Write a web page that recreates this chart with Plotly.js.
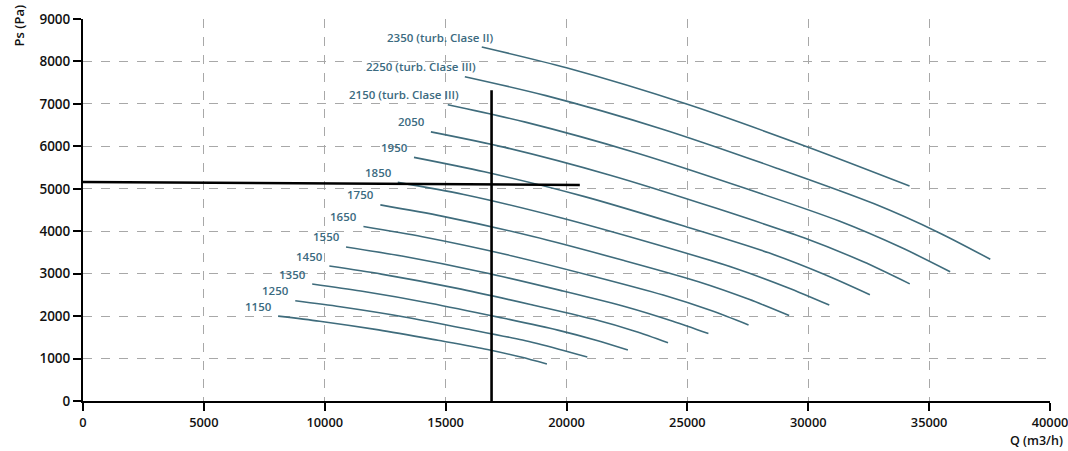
<!DOCTYPE html>
<html>
<head>
<meta charset="utf-8">
<script src="https://cdn.plot.ly/plotly-3.0.1.min.js"></script>
<style>
  html, body { margin: 0; padding: 0; background: #fff; }
  #chart { width: 1068px; height: 451px; }
</style>
</head>
<body>
<div id="chart"></div>
<script>
// Fan speed curves (rpm) – Q in m3/h, Ps in Pa
const labels = ['1150', '1250', '1350', '1450', '1550', '1650', '1750', '1850', '1950', '2050',
                '2150 (turb. Clase III)', '2250 (turb. Clase III)', '2350 (turb. Clase II)'];

const q1150 = [8070, 9790, 12230, 14680, 16730, 18110, 19190];
const p1150 = [2000, 1880, 1675, 1430, 1215, 1035, 872];
const q1250 = [8780, 10640, 13300, 15960, 18180, 19680, 20860];
const p1250 = [2360, 2220, 1980, 1690, 1435, 1220, 1035];
const q1350 = [9480, 11490, 14360, 17230, 19640, 21260, 22540];
const p1350 = [2755, 2590, 2305, 1970, 1670, 1425, 1200];
const q1450 = [10190, 12340, 15430, 18510, 21090, 22830, 24200];
const p1450 = [3180, 2990, 2660, 2275, 1930, 1645, 1375];
const q1550 = [10880, 13190, 16490, 19790, 22550, 24400, 25870];
const p1550 = [3630, 3415, 3040, 2600, 2205, 1880, 1590];
const q1650 = [11600, 14040, 17550, 21060, 24000, 25980, 27530];
const p1650 = [4110, 3870, 3445, 2945, 2495, 2130, 1792];
const q1750 = [12300, 14890, 18620, 22340, 25460, 27550, 29210];
const p1750 = [4620, 4350, 3875, 3315, 2810, 2395, 2012];
const q1850 = [13020, 15750, 19680, 23620, 26910, 29130, 30870];
const p1850 = [5150, 4865, 4330, 3705, 3140, 2675, 2260];
const q1950 = [13690, 16600, 20750, 24890, 28370, 30700, 32550];
const p1950 = [5740, 5400, 4815, 4115, 3490, 2975, 2505];
const q2050 = [14390, 17450, 21810, 26170, 29820, 32280, 34200];
const p2050 = [6340, 5975, 5320, 4545, 3845, 3280, 2760];
const q2150 = [15090, 18300, 22870, 27450, 31280, 33850, 35870];
const p2150 = [6980, 6570, 5850, 5000, 4240, 3615, 3045];
const q2250 = [15795, 19150, 23940, 28720, 32730, 35430, 37530];
const p2250 = [7640, 7195, 6410, 5480, 4645, 3960, 3340];
const q2350 = [16495, 20000, 25000, 30000, 34190];
const p2350 = [8340, 7850, 6990, 5980, 5066];

const curveQ = [q1150, q1250, q1350, q1450, q1550, q1650, q1750, q1850, q1950, q2050, q2150, q2250, q2350];
const curveP = [p1150, p1250, p1350, p1450, p1550, p1650, p1750, p1850, p1950, p2050, p2150, p2250, p2350];

// Operating point cross lines
const hLineQ = [0, 20550];
const hLineP = [5160, 5090];
const vLineQ = [16900, 16900];
const vLineP = [0, 7320];

const curveColor = '#3f6c7c';
const labelColor = '#3b6a80';

const traces = curveQ.map((q, i) => ({
  x: q, y: curveP[i], type: 'scatter', mode: 'lines',
  line: { color: curveColor, width: 1.6, shape: 'spline', smoothing: 0.8 },
  hoverinfo: 'skip', showlegend: false
}));
traces.push({ x: hLineQ, y: hLineP, type: 'scatter', mode: 'lines',
  line: { color: '#000', width: 2.6 }, showlegend: false, hoverinfo: 'skip' });
traces.push({ x: vLineQ, y: vLineP, type: 'scatter', mode: 'lines',
  line: { color: '#000', width: 2.6 }, showlegend: false, hoverinfo: 'skip' });

const annotations = labels.map((t, i) => {
  const turb = t.indexOf('turb') >= 0;
  return {
    x: curveQ[i][0], y: curveP[i][0], xref: 'x', yref: 'y',
    text: t, showarrow: false, xanchor: 'right', yanchor: 'middle',
    xshift: turb ? 13 : -4, yshift: 10,
    font: { family: 'Open Sans', size: 11.5, color: labelColor, weight: 600 }
  };
});
annotations.push({
  text: 'Ps (Pa)', xref: 'paper', yref: 'paper', x: -0.066, y: 1.04,
  xanchor: 'center', yanchor: 'top', textangle: -90, showarrow: false,
  font: { family: 'Open Sans', size: 13, color: '#111', weight: 600 }
});
annotations.push({
  text: 'Q (m3/h)', xref: 'paper', yref: 'paper', x: 1.015, y: -0.076,
  xanchor: 'right', yanchor: 'top', showarrow: false,
  font: { family: 'Open Sans', size: 12.5, color: '#111', weight: 600 }
});

const axisCommon = {
  showline: true, linecolor: '#000', linewidth: 2,
  ticks: 'outside', ticklen: 8, tickwidth: 2, tickcolor: '#000',
  showgrid: true, gridcolor: '#a8a8a8', gridwidth: 1, griddash: 'dash',
  zeroline: false, tickformat: 'd', ticklabeloverflow: 'allow',
  tickfont: { family: 'Open Sans', size: 13.5, color: '#111', weight: 600 }
};

const layout = {
  width: 1068, height: 451,
  margin: { l: 83, r: 18, t: 19, b: 50 },
  paper_bgcolor: '#fff', plot_bgcolor: '#fff',
  xaxis: Object.assign({}, axisCommon, { range: [0, 40000], dtick: 5000, tick0: 0, ticklabelstandoff: 1,
    tickfont: { family: 'Open Sans', size: 12.8, color: '#111', weight: 600 } }),
  yaxis: Object.assign({}, axisCommon, { range: [0, 9000], dtick: 1000, tick0: 0 }),
  annotations: annotations,
  showlegend: false
};

Plotly.newPlot('chart', traces, layout, { staticPlot: true, displayModeBar: false });
</script>
</body>
</html>
